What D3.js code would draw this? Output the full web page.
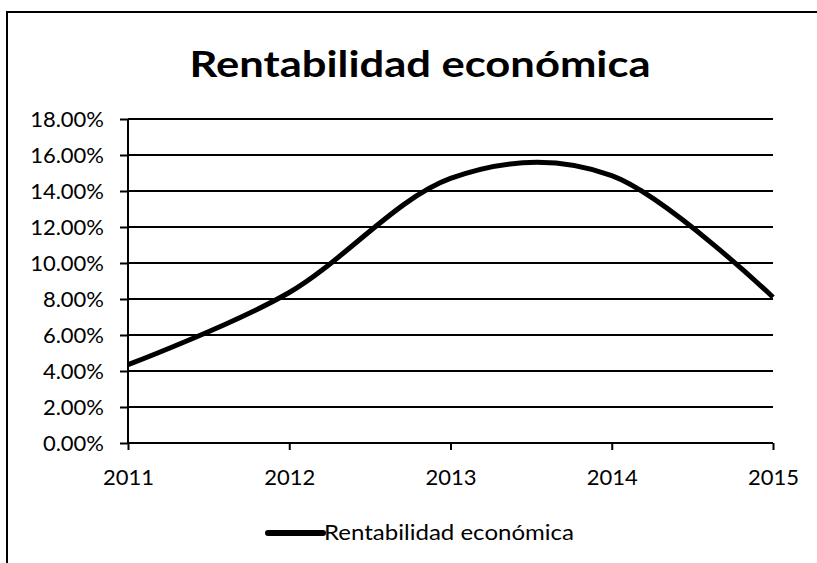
<!DOCTYPE html>
<html>
<head>
<meta charset="utf-8">
<script src="https://cdn.jsdelivr.net/npm/d3@7"></script>
<style>
  body { margin: 0; background: #fff; }
  text { font-family: Lato, "Open Sans", sans-serif; fill: #000; }
</style>
</head>
<body>
<div id="chart-area"></div>
<script>
// values
const years = [2011, 2012, 2013, 2014, 2015]
const rentabilidad = [0.0435, 0.0836, 0.147, 0.1485, 0.081]
const yTicks = [0, 0.02, 0.04, 0.06, 0.08, 0.10, 0.12, 0.14, 0.16, 0.18]
const seriesName = 'Rentabilidad económica'

const W = 817, H = 563
const MARGIN = { LEFT: 128, RIGHT: 44, TOP: 119, BOTTOM: 120 }
const WIDTH = W - MARGIN.LEFT - MARGIN.RIGHT
const HEIGHT = H - MARGIN.TOP - MARGIN.BOTTOM

const svg = d3.select('#chart-area')
  .append('svg')
  .attr('width', W)
  .attr('height', H)

// outer frame (only top and left edges show in the scan)
svg.append('path')
  .attr('d', `M7,${H} V12 H${W}`)
  .attr('fill', 'none')
  .attr('stroke', '#000')
  .attr('stroke-width', 2)

svg.append('text')
  .attr('x', 420)
  .attr('y', 77)
  .attr('text-anchor', 'middle')
  .attr('font-size', '37px')
  .attr('font-weight', 'bold')
  .attr('textLength', 461)
  .attr('lengthAdjust', 'spacingAndGlyphs')
  .text('Rentabilidad económica')

const g = svg.append('g')
  .attr('transform', `translate(${MARGIN.LEFT},${MARGIN.TOP})`)

const x = d3.scaleLinear()
  .domain([years[0], years[years.length - 1]])
  .range([0, WIDTH])

const y = d3.scaleLinear()
  .domain([0, 0.18])
  .range([HEIGHT, 0])

// gridlines
g.append('g')
  .selectAll('line')
  .data(yTicks)
  .enter().append('line')
  .attr('x1', 0)
  .attr('x2', WIDTH)
  .attr('y1', d => y(d))
  .attr('y2', d => y(d))
  .attr('stroke', '#000')
  .attr('stroke-width', 2)

const yAxisCall = d3.axisLeft(y)
  .tickValues(yTicks)
  .tickFormat(d3.format('.2%'))
  .tickSize(8)
  .tickPadding(16)
g.append('g')
  .attr('class', 'y axis')
  .call(yAxisCall)
  .call(a => a.select('.domain').attr('stroke-width', 2).attr('d', `M0,0V${HEIGHT}`))
  .call(a => a.selectAll('line').attr('stroke-width', 2))
  .selectAll('text')
  .attr('font-size', '22px')
  .attr('font-family', 'Lato, sans-serif')

const xAxisCall = d3.axisBottom(x)
  .tickValues(years)
  .tickFormat(d3.format('d'))
  .tickSize(7)
  .tickPadding(19)
g.append('g')
  .attr('class', 'x axis')
  .attr('transform', `translate(0,${HEIGHT})`)
  .call(xAxisCall)
  .call(a => a.select('.domain').remove())
  .call(a => a.selectAll('line').attr('stroke-width', 2))
  .selectAll('text')
  .attr('font-size', '22px')
  .attr('font-family', 'Lato, sans-serif')

const line = d3.line()
  .x((d, i) => x(years[i]))
  .y(d => y(d))
  .curve(d3.curveCardinal.tension(0))

g.append('path')
  .datum(rentabilidad)
  .attr('d', line)
  .attr('fill', 'none')
  .attr('stroke', '#000')
  .attr('stroke-width', 5)
  .attr('stroke-linejoin', 'round')

// legend
const legend = svg.append('g')
  .attr('transform', 'translate(268,533)')
legend.append('line')
  .attr('x1', 0)
  .attr('x2', 55)
  .attr('stroke', '#000')
  .attr('stroke-width', 6)
  .attr('stroke-linecap', 'round')
legend.append('text')
  .attr('x', 56)
  .attr('y', 7)
  .attr('font-size', '21px')
  .attr('textLength', 250)
  .attr('lengthAdjust', 'spacingAndGlyphs')
  .text(seriesName)
</script>
</body>
</html>
